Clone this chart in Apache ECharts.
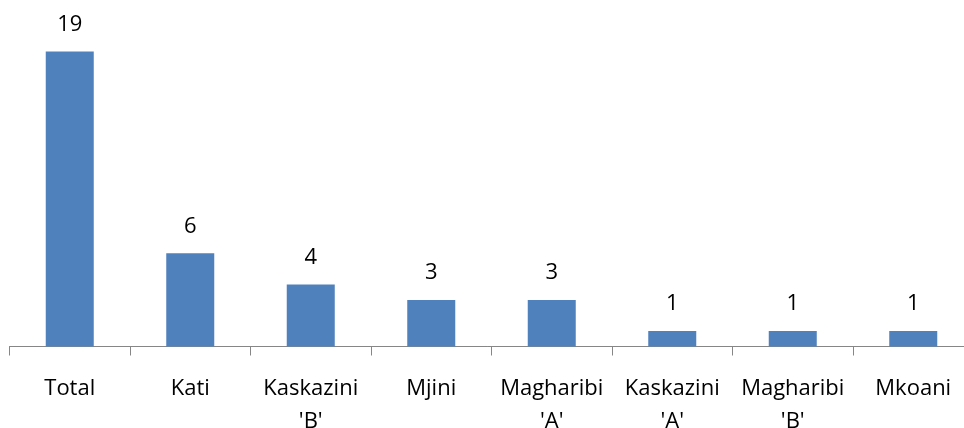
<!DOCTYPE html>
<html><head><meta charset="utf-8">
<script src="https://cdn.jsdelivr.net/npm/echarts@6/dist/echarts.min.js"></script>
<style>html,body{margin:0;padding:0;background:#fff}#c{width:964px;height:428px}</style>
</head><body><div id="c"></div>
<script>
const categories = ["Total", "Kati", "Kaskazini\n'B'", "Mjini", "Magharibi\n'A'", "Kaskazini\n'A'", "Magharibi\n'B'", "Mkoani"];
const values = [19, 6, 4, 3, 3, 1, 1, 1];
const chart = echarts.init(document.getElementById('c'));
chart.setOption({
  animation: false,
  grid: { left: 9.5, right: -9.5, top: 35.9, bottom: 81.5, containLabel: false, outerBoundsMode: 'none' },
  xAxis: {
    type: 'category', data: categories,
    axisLine: { lineStyle: { color: '#868686', width: 1 } },
    axisTick: { show: true, length: 9, alignWithLabel: false, lineStyle: { color: '#868686' } },
    axisLabel: { color: '#000', fontFamily: 'Open Sans', fontSize: 22, margin: 26, lineHeight: 33, interval: 0 }
  },
  yAxis: { type: 'value', min: 0, max: 20, show: false, splitLine: { show: false } },
  series: [{
    type: 'bar', data: values, barWidth: 48,
    itemStyle: { color: '#4f81bd' },
    label: { show: true, position: 'top', distance: 16, color: '#000', fontFamily: 'Open Sans', fontSize: 22, lineHeight: 22 }
  }]
});
</script></body></html>
